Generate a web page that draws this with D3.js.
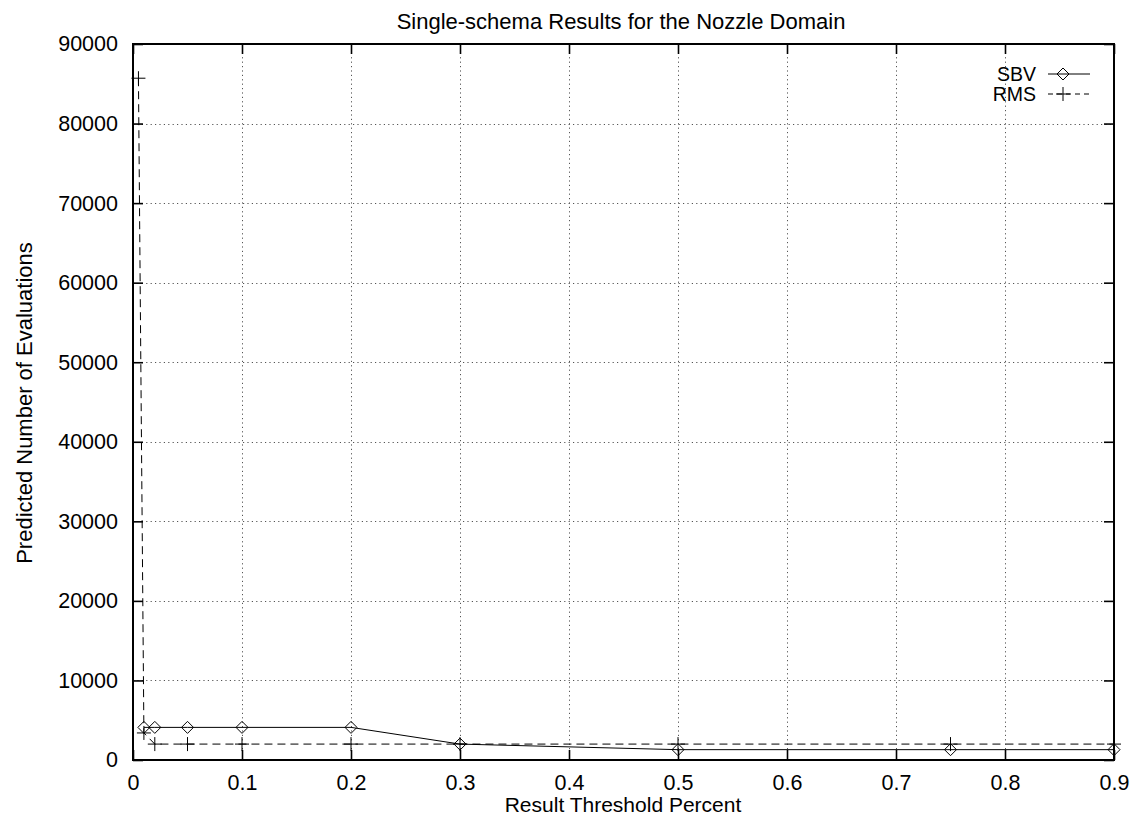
<!DOCTYPE html>
<html>
<head>
<meta charset="utf-8">
<script src="https://cdn.jsdelivr.net/npm/d3@7/dist/d3.min.js"></script>
<style>
  html, body { margin: 0; padding: 0; background: #fff; }
  svg { display: block; font-family: "Liberation Sans", Arial, Helvetica, sans-serif; }
</style>
</head>
<body>
<svg id="chart" width="1130" height="815"></svg>
<script>
// Threshold values (percent) and predicted evaluation counts per method
const sbvX = [0.01, 0.02, 0.05, 0.1, 0.2, 0.3, 0.5, 0.75, 0.9];
const sbvY = [4100, 4100, 4100, 4100, 4100, 2000, 1300, 1300, 1300];
const rmsX = [0.005, 0.01, 0.02, 0.05, 0.1, 0.2, 0.3, 0.5, 0.75, 0.9];
const rmsY = [85700, 3400, 2000, 2000, 2000, 2000, 2000, 2000, 2000, 2000];
const xTicks = [0, 0.1, 0.2, 0.3, 0.4, 0.5, 0.6, 0.7, 0.8, 0.9];
const yTicks = [0, 10000, 20000, 30000, 40000, 50000, 60000, 70000, 80000, 90000];
const seriesNames = ["SBV", "RMS"];

const svg = d3.select("#chart");
const m = { left: 133, right: 1114, top: 44, bottom: 760 };

const x = d3.scaleLinear().domain([0, 0.9]).range([m.left, m.right]);
const y = d3.scaleLinear().domain([0, 90000]).range([m.bottom, m.top]);

const tickFont = 21.5;
const labelFont = 22;

// Dotted grid
const grid = svg.append("g").attr("stroke", "#555").attr("stroke-width", 1)
  .attr("stroke-dasharray", "1.2,3.2");
grid.selectAll("line.vx").data(xTicks.slice(1, -1)).join("line")
  .attr("x1", d => Math.round(x(d)) + 0.5).attr("x2", d => Math.round(x(d)) + 0.5)
  .attr("y1", m.top).attr("y2", m.bottom);
grid.selectAll("line.hy").data(yTicks.slice(1, -1)).join("line")
  .attr("y1", d => Math.round(y(d)) + 0.5).attr("y2", d => Math.round(y(d)) + 0.5)
  .attr("x1", m.left).attr("x2", m.right);

// Axes with inward ticks, mirrored on top and right
const tickLen = 10;
const fmtY = d3.format("d");
const fmtX = d => d === 0 ? "0" : d3.format(".1f")(d);

const axB = svg.append("g").attr("transform", `translate(0,${m.bottom})`)
  .call(d3.axisBottom(x).tickValues(xTicks).tickSize(-tickLen).tickPadding(15).tickFormat(fmtX));
const axT = svg.append("g").attr("transform", `translate(0,${m.top})`)
  .call(d3.axisTop(x).tickValues(xTicks).tickSize(-tickLen).tickFormat(""));
const axL = svg.append("g").attr("transform", `translate(${m.left},0)`)
  .call(d3.axisLeft(y).tickValues(yTicks).tickSize(-tickLen).tickPadding(15).tickFormat(fmtY));
const axR = svg.append("g").attr("transform", `translate(${m.right},0)`)
  .call(d3.axisRight(y).tickValues(yTicks).tickSize(-tickLen).tickFormat(""));

[axB, axT, axL, axR].forEach(a => {
  a.select(".domain").remove();
  a.selectAll(".tick line").attr("stroke", "#000").attr("stroke-width", 1.6);
  a.selectAll("text").attr("fill", "#000").attr("font-size", tickFont)
    .attr("font-family", "Liberation Sans, Arial, sans-serif");
});
axB.selectAll("text").attr("dy", "0.71em");

// Frame
svg.append("rect")
  .attr("x", m.left).attr("y", m.top)
  .attr("width", m.right - m.left).attr("height", m.bottom - m.top)
  .attr("fill", "none").attr("stroke", "#000").attr("stroke-width", 2);

// Series lines
const sbv = sbvX.map((d, i) => [d, sbvY[i]]);
const rms = rmsX.map((d, i) => [d, rmsY[i]]);
const line = d3.line().x(d => x(d[0])).y(d => y(d[1]));

svg.append("path").datum(rms).attr("d", line)
  .attr("fill", "none").attr("stroke", "#000").attr("stroke-width", 1)
  .attr("stroke-dasharray", "8,5");
svg.append("path").datum(sbv).attr("d", line)
  .attr("fill", "none").attr("stroke", "#000").attr("stroke-width", 1);

// Markers
const dsz = 6;
function diamond(g, cx, cy) {
  g.append("path")
    .attr("d", `M${cx},${cy - dsz}L${cx + dsz},${cy}L${cx},${cy + dsz}L${cx - dsz},${cy}Z`)
    .attr("fill", "none").attr("stroke", "#000").attr("stroke-width", 1);
}
function plus(g, cx, cy) {
  const s = 7;
  g.append("path")
    .attr("d", `M${cx - s},${cy}H${cx + s}M${cx},${cy - s}V${cy + s}`)
    .attr("fill", "none").attr("stroke", "#000").attr("stroke-width", 1);
}
const marks = svg.append("g");
sbv.forEach(d => diamond(marks, x(d[0]), y(d[1])));
rms.forEach(d => plus(marks, x(d[0]), y(d[1])));

// Legend
const legend = svg.append("g");
const legRows = [
  { name: seriesNames[0], yy: 74, dash: null, mark: diamond },
  { name: seriesNames[1], yy: 94, dash: "5,4", mark: plus }
];
legRows.forEach(r => {
  legend.append("text").attr("x", 1036).attr("y", r.yy).attr("dy", "0.35em")
    .attr("text-anchor", "end").attr("font-size", 19.5).text(r.name);
  legend.append("line").attr("x1", 1048).attr("x2", 1090).attr("y1", r.yy).attr("y2", r.yy)
    .attr("stroke", "#000").attr("stroke-width", 1)
    .attr("stroke-dasharray", r.dash);
  r.mark(legend, 1063, r.yy);
});

// Titles
svg.append("text").attr("x", 621).attr("y", 29).attr("text-anchor", "middle")
  .attr("font-size", labelFont).text("Single-schema Results for the Nozzle Domain");
svg.append("text").attr("x", 623).attr("y", 812).attr("text-anchor", "middle")
  .attr("font-size", 21).text("Result Threshold Percent");
svg.append("text").attr("transform", "translate(32,403) rotate(-90)")
  .attr("text-anchor", "middle").attr("font-size", labelFont)
  .text("Predicted Number of Evaluations");
</script>
</body>
</html>
